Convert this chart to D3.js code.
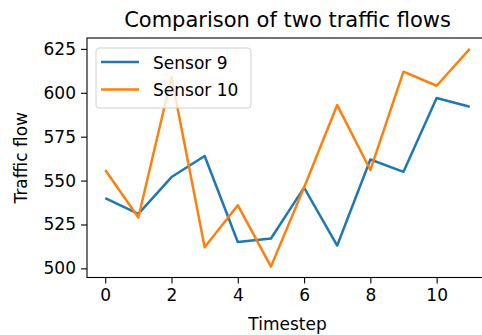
<!DOCTYPE html>
<html>
<head>
<meta charset="utf-8">
<script src="https://cdn.jsdelivr.net/npm/d3@7"></script>
<style>
  body { margin: 0; background: #fff; }
  svg { display: block; font-family: "DejaVu Sans", sans-serif; }
</style>
</head>
<body>
<div id="chart"></div>
<script>
// data
var timesteps = [0, 1, 2, 3, 4, 5, 6, 7, 8, 9, 10, 11];
var sensor9 = [540, 531, 552, 564, 515, 517, 546, 513, 562, 555, 597, 592];
var sensor10 = [556, 529, 609, 512, 536, 501, 546, 593, 556, 612, 604, 625];
var seriesNames = ["Sensor 9", "Sensor 10"];
var xTicks = [0, 2, 4, 6, 8, 10];
var yTicks = [500, 525, 550, 575, 600, 625];

var W = 482, H = 335;
var margin = { top: 38, right: -6, bottom: 57.5, left: 87 },
    width = W - margin.left - margin.right,
    height = H - margin.top - margin.bottom;

var colors = ["#1f77b4", "#ff7f0e"];

var svg = d3.select("#chart").append("svg")
    .attr("width", W)
    .attr("height", H);

var g = svg.append("g")
    .attr("transform", "translate(" + margin.left + "," + margin.top + ")");

// matplotlib style 5% padding on both axes
var xExt = d3.extent(timesteps);
var xPad = (xExt[1] - xExt[0]) * 0.05;
var x = d3.scaleLinear()
    .domain([xExt[0] - xPad, xExt[1] + xPad])
    .range([0, width]);

var yExt = d3.extent(sensor9.concat(sensor10));
var yPad = (yExt[1] - yExt[0]) * 0.05;
var y = d3.scaleLinear()
    .domain([yExt[0] - yPad, yExt[1] + yPad])
    .range([height, 0]);

// axes
var xAxis = g.append("g")
    .attr("transform", "translate(0," + height + ")")
    .call(d3.axisBottom(x).tickValues(xTicks).tickSize(6).tickPadding(5));
var yAxis = g.append("g")
    .call(d3.axisLeft(y).tickValues(yTicks).tickSize(6).tickPadding(5));

[xAxis, yAxis].forEach(function(a) {
    a.select(".domain").remove();
    a.selectAll("line").attr("stroke", "#000").attr("stroke-width", 1.1);
    a.selectAll("text")
        .attr("fill", "#000")
        .style("font-size", "17px")
        .style("font-family", "DejaVu Sans, sans-serif");
});

// frame
g.append("rect")
    .attr("width", width)
    .attr("height", height)
    .attr("fill", "none")
    .attr("stroke", "#000")
    .attr("stroke-width", 1.1);

var line = d3.line()
    .x(function(d) { return x(d[0]); })
    .y(function(d) { return y(d[1]); });

[sensor9, sensor10].forEach(function(vals, i) {
    g.append("path")
        .datum(timesteps.map(function(t, j) { return [t, vals[j]]; }))
        .attr("fill", "none")
        .attr("stroke", colors[i])
        .attr("stroke-width", 2.5)
        .attr("stroke-linejoin", "round")
        .attr("d", line);
});

// legend
var leg = g.append("g").attr("transform", "translate(9,10)");
leg.append("rect")
    .attr("width", 155)
    .attr("height", 60)
    .attr("rx", 3)
    .attr("fill", "#fff")
    .attr("fill-opacity", 0.8)
    .attr("stroke", "#d0d0d0")
    .attr("stroke-width", 1);

seriesNames.forEach(function(name, i) {
    var ly = 14 + i * 27.5;
    leg.append("line")
        .attr("x1", 5).attr("x2", 43)
        .attr("y1", ly).attr("y2", ly)
        .attr("stroke", colors[i])
        .attr("stroke-width", 2.5);
    leg.append("text")
        .attr("x", 57)
        .attr("y", ly + 6.5)
        .style("font-size", "17px")
        .text(name);
});

// title and axis labels
svg.append("text")
    .attr("x", margin.left + width / 2)
    .attr("y", 27)
    .attr("text-anchor", "middle")
    .style("font-size", "21px")
    .text("Comparison of two traffic flows");

svg.append("text")
    .attr("x", margin.left + width / 2)
    .attr("y", 330)
    .attr("text-anchor", "middle")
    .style("font-size", "17px")
    .text("Timestep");

svg.append("text")
    .attr("transform", "translate(27," + (margin.top + height / 2) + ") rotate(-90)")
    .attr("text-anchor", "middle")
    .style("font-size", "17px")
    .text("Traffic flow");
</script>
</body>
</html>
